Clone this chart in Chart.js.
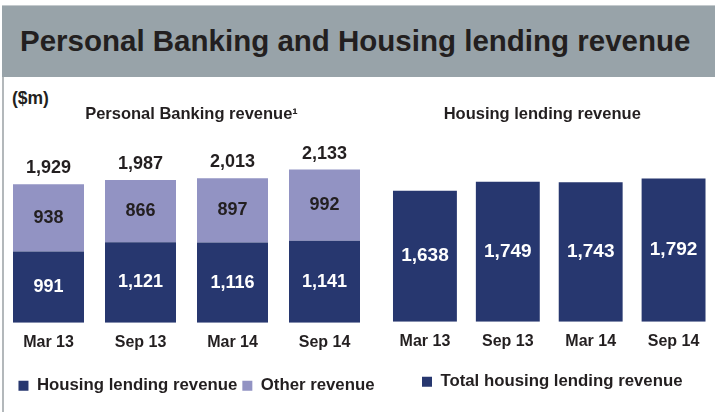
<!DOCTYPE html>
<html lang="en">
<head>
  <meta charset="UTF-8" />
  <title>Personal Banking and Housing lending revenue</title>
  <script src="https://cdn.jsdelivr.net/npm/chart.js"></script>
  <style>
    body {
      margin: 0;
      background: #fff;
      font-family: "Liberation Sans", Arial, sans-serif;
      color: #231f20;
    }
    #page {
      position: relative;
      width: 715px;
      height: 412px;
      overflow: hidden;
    }
    #banner {
      position: absolute;
      left: 2px;
      top: 5px;
      width: 713px;
      height: 72px;
      background: #98a3a9;
      border-top: 1px solid #c4cacd;
      box-sizing: border-box;
    }
    #banner h1 {
      position: absolute;
      left: 18px;
      top: 18px;
      margin: 0;
      font-size: 29.5px;
      line-height: 34px;
      font-weight: bold;
    }
    #rule {
      position: absolute;
      left: 2px;
      top: 77px;
      width: 2px;
      height: 335px;
      background: #b3b8bb;
    }
    #unit {
      position: absolute;
      left: 12px;
      top: 88px;
      font-size: 17.5px;
      line-height: 20px;
      font-weight: bold;
    }
    .wrap { position: absolute; top: 80px; height: 332px; }
    #leftWrap { left: 0; width: 390px; }
    #rightWrap { left: 375px; width: 340px; }
  </style>
</head>
<body>
  <div id="page">
    <div id="banner"><h1>Personal Banking and Housing lending revenue</h1></div>
    <div id="rule"></div>
    <div id="unit">($m)</div>
    <div class="wrap" id="leftWrap"><canvas id="pbChart"></canvas></div>
    <div class="wrap" id="rightWrap"><canvas id="hlChart"></canvas></div>
  </div>

  <script>
    // data
    const periods = ['Mar 13', 'Sep 13', 'Mar 14', 'Sep 14'];
    const housingLending = [991, 1121, 1116, 1141];
    const otherRevenue = [938, 866, 897, 992];
    const pbTotals = [1929, 1987, 2013, 2133];
    const totalHousing = [1638, 1749, 1743, 1792];

    const NAVY = '#27376f';
    const LILAC = '#9293c3';
    const INK = '#231f20';
    const FONT = '"Liberation Sans", Arial, sans-serif';

    const fmt = v => v.toLocaleString('en-US');

    // draws values inside bars, plus totals above stacked bars
    const valueLabels = {
      id: 'valueLabels',
      afterDatasetsDraw(chart, args, opts) {
        const ctx = chart.ctx;
        ctx.save();
        ctx.font = 'bold ' + opts.size + 'px ' + FONT;
        ctx.textAlign = 'center';
        ctx.textBaseline = 'middle';
        chart.data.datasets.forEach((ds, i) => {
          chart.getDatasetMeta(i).data.forEach((bar, j) => {
            ctx.fillStyle = ds.labelColor;
            ctx.fillText(fmt(ds.data[j]), bar.x, (bar.y + bar.base) / 2);
          });
        });
        if (opts.totals) {
          const top = chart.getDatasetMeta(chart.data.datasets.length - 1).data;
          ctx.fillStyle = INK;
          top.forEach((bar, j) => ctx.fillText(fmt(opts.totals[j]), bar.x, bar.y - 16));
        }
        ctx.restore();
      }
    };

    // nudge legend and title sideways after layout (both are centred on the bars otherwise)
    const boxShift = {
      id: 'boxShift',
      afterLayout(chart, args, opts) {
        if (chart.legend) {
          chart.legend.left += opts.legendDx;
          chart.legend.right += opts.legendDx;
        }
        if (chart.titleBlock) {
          chart.titleBlock.left += opts.titleDx;
          chart.titleBlock.right += opts.titleDx;
        }
      }
    };

    function baseOptions(title, yMax, padL, padR, padB, extra) {
      return {
        responsive: true,
        maintainAspectRatio: false,
        animation: false,
        layout: { padding: { left: padL, right: padR, top: 0, bottom: padB } },
        plugins: {
          title: {
            display: true,
            text: title,
            color: INK,
            font: { family: FONT, size: 16.5, weight: 'bold' },
            padding: { top: 25, bottom: 10 }
          },
          legend: {
            position: 'bottom',
            onClick: null,
            labels: {
              boxWidth: 10,
              boxHeight: 10,
              padding: 5,
              color: INK,
              font: { family: FONT, size: 16.8, weight: 'bold' }
            }
          },
          tooltip: { enabled: false }
        },
        scales: {
          x: {
            stacked: true,
            grid: { display: false },
            border: { display: false },
            ticks: { color: INK, padding: 2, font: { family: FONT, size: 16, weight: 'bold' } },
            afterFit: s => { s.height += extra; }
          },
          y: { stacked: true, display: false, min: 0, max: yMax }
        }
      };
    }

    const pbOpts = baseOptions('Personal Banking revenue\u00b9', 2617, 2.5, 19.5, 7.75, 18.5);
    pbOpts.plugins.valueLabels = { size: 18, totals: pbTotals };
    pbOpts.plugins.boxShift = { legendDx: 10, titleDx: 5 };

    new Chart(document.getElementById('pbChart'), {
      type: 'bar',
      data: {
        labels: periods,
        datasets: [
          { label: 'Housing lending revenue', data: housingLending, backgroundColor: NAVY,
            borderWidth: 0, labelColor: '#ffffff', categoryPercentage: 1, barPercentage: 71 / 92 },
          { label: 'Other revenue', data: otherRevenue, backgroundColor: LILAC,
            borderWidth: 0, labelColor: INK, categoryPercentage: 1, barPercentage: 71 / 92 }
        ]
      },
      options: pbOpts,
      plugins: [valueLabels, boxShift]
    });

    const hlOpts = baseOptions('Housing lending revenue', 2337, 8.5, 0, 11.75, 15.5);
    hlOpts.plugins.valueLabels = { size: 19 };
    hlOpts.plugins.boxShift = { legendDx: 3, titleDx: -7 };

    new Chart(document.getElementById('hlChart'), {
      type: 'bar',
      data: {
        labels: periods,
        datasets: [
          { label: 'Total housing lending revenue', data: totalHousing, backgroundColor: NAVY,
            borderWidth: 0, labelColor: '#ffffff', categoryPercentage: 1, barPercentage: 64 / 83 }
        ]
      },
      options: hlOpts,
      plugins: [valueLabels, boxShift]
    });
  </script>
</body>
</html>
